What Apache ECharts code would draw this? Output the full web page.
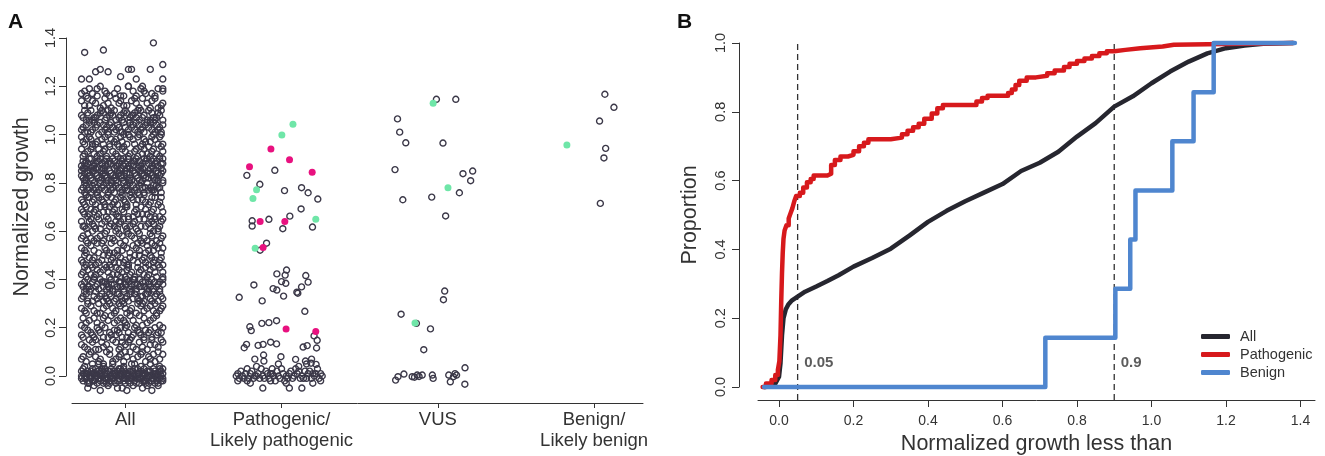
<!DOCTYPE html>
<html>
<head>
<meta charset="utf-8">
<title>Normalized growth</title>
<script src="https://cdn.jsdelivr.net/npm/echarts@6/dist/echarts.min.js"></script>
<style>
  html, body { margin: 0; padding: 0; background: #fff; }
  #main { width: 1325px; height: 456px; }
</style>
</head>
<body>
<div id="main"></div>
<script type="text/javascript">
// ---------- panel A : strip chart ----------
var categories = ['All', 'Pathogenic/\nLikely pathogenic', 'VUS', 'Benign/\nLikely benign'];
var catPos = [1, 2, 3, 4];

// "All" group, [x, y] in hundredths (x = jittered category position)
var allBand = [
  [72,0],[73,-2],[74,1],[75,-1],[76,2],[77,0],[78,-1],[79,1],[80,-2],[81,0],[82,2],[83,-1],[84,1],[85,0],[86,-2],[87,1],[88,-1],[89,2],[90,0],[91,-1],[92,1],[93,-2],[94,0],[95,2],[96,-1],[97,1],[98,0],[99,-2],[100,1],[101,-1],[102,0],[103,2],[104,-1],[105,1],[106,-2],[107,0],[108,1],[109,-1],[110,2],[111,0],[112,-2],[113,1],[114,-1],[115,0],[116,2],[117,-1],[118,1],[119,0],[120,-2],[121,1],[122,-1],[123,0],[124,1],
  [72,2],[74,-1],[75,1],[77,-2],[78,2],[80,1],[81,-1],[83,2],[84,-2],[86,0],[87,3],[89,-1],[90,2],[92,-1],[93,1],[95,-2],[96,0],[98,2],[99,-1],[101,1],[102,-2],[104,2],[105,0],[107,-1],[108,3],[110,-1],[111,1],[113,-2],[114,2],[116,0],[117,-2],[119,2],[120,0],[122,2],[123,-2],[124,-1],
  [73,3],[76,-3],[79,3],[82,-3],[85,3],[88,-3],[91,3],[94,-3],[97,3],[100,-3],[103,-3],[106,3],[109,-3],[112,3],[115,-3],[118,3],[121,-3],[124,3],
  [76,-5],[84,-6],[89,-4],[95,-5],[101,-6],[105,-4],[111,-5],[117,-6],[121,-4],[80,-4],[98,-5],[114,-4],
  [74,4],[79,5],[86,4],[92,5],[99,4],[104,5],[110,4],[116,5],[122,4],[83,5],
  [72,-1],[73,1],[75,0],[76,1],[78,0],[79,-2],[81,1],[82,0],[84,-1],[85,2],[87,-1],[88,1],[90,-2],[91,0],[93,2],[94,1],[96,-2],[97,0],[99,1],[100,-1],[102,1],[103,-1],[105,2],[106,0],[108,-1],[109,1],[111,-2],[112,1],[114,0],[115,2],[117,0],[118,-1],[120,1],[121,-1],[123,2],[124,-2],
  [77,-3],[81,3],[86,-3],[90,-3],[96,3],[99,3],[107,-3],[113,-3],[119,-3],[122,3]
];
var allUpper = [
  [75,6],[81,8],[86,5],[90,9],[94,7],[99,6],[103,10],[108,8],[113,6],[118,9],[122,7],[78,10],[84,7],[97,9],[106,5],[111,10],[116,7],[121,10],[73,8],[101,8],
  [74,12],[79,14],[83,11],[88,13],[92,15],[96,11],[100,13],[105,12],[109,14],[114,11],[119,13],[123,15],[77,15],[86,12],[94,14],[103,15],[111,12],[117,15],[81,11],[98,14],
  [72,17],[76,19],[80,16],[84,18],[87,20],[91,17],[95,19],[98,16],[102,18],[106,20],[110,17],[113,19],[117,16],[121,18],[124,20],[78,18],[89,16],[93,19],[100,20],[104,16],[108,19],[115,18],[119,20],[82,20],
  [75,22],[80,24],[85,21],[89,23],[93,22],[97,24],[101,21],[105,23],[109,25],[114,22],[118,24],[122,21],[73,24],[87,25],[99,23],[111,21],
  [74,27],[78,29],[82,26],[86,28],[90,30],[94,27],[97,29],[101,26],[104,28],[108,30],[112,27],[116,29],[120,26],[123,28],[76,30],[84,26],[92,28],[99,30],[110,29],[118,27],
  [72,32],[75,34],[79,31],[81,35],[84,33],[88,32],[90,34],[93,31],[97,33],[99,35],[102,31],[106,34],[108,32],[111,33],[115,35],[117,31],[120,34],[124,32],[74,35],[80,33],[86,31],[91,33],[95,34],[100,32],[104,35],[109,31],[113,34],[119,33],[122,35],
  [73,37],[76,40],[78,36],[82,38],[85,39],[88,36],[91,38],[94,40],[97,37],[100,39],[103,36],[106,38],[109,40],[112,37],[115,39],[118,36],[121,38],[124,40],[74,39],[77,37],[80,40],[83,36],[87,39],[89,37],[92,36],[96,39],[98,37],[101,40],[104,38],[107,36],[110,37],[113,39],[116,37],[119,39],[122,36],[86,37],[105,40],
  [72,42],[76,44],[80,41],[84,43],[88,45],[92,42],[96,44],[100,41],[104,43],[108,45],[112,42],[116,44],[120,41],[124,43],[74,45],[78,42],[82,44],[90,41],[94,45],[98,43],[102,45],[110,44],[114,41],[118,45],
  [73,47],[77,49],[81,46],[85,48],[89,50],[93,47],[97,49],[101,46],[105,48],[109,50],[113,47],[117,49],[121,46],[123,49],[75,46],[79,48],[87,46],[91,48],[95,50],[99,47],[103,49],[111,48],[115,46],[119,48],
  [74,52],[78,54],[83,51],[87,53],[91,55],[95,52],[99,54],[103,51],[107,53],[111,55],[115,52],[119,54],[123,51],[76,55],[85,55],[93,51],[101,53],[109,52],[117,55],[121,53],
  [72,57],[76,59],[80,56],[84,58],[88,60],[92,57],[96,59],[100,56],[104,58],[108,60],[112,57],[116,59],[120,56],[124,58],[78,57],[86,56],[94,60],[102,59],[110,56],[118,60],
  [73,62],[77,64],[81,61],[85,63],[89,65],[93,62],[97,64],[101,61],[105,63],[109,65],[113,62],[117,64],[121,61],[123,64],[75,61],[79,63],[83,65],[91,63],[95,61],[99,65],[103,62],[107,61],[115,63],[119,65],
  [74,67],[78,69],[82,66],[86,68],[90,70],[94,67],[98,69],[102,66],[106,68],[110,70],[114,67],[118,69],[122,66],[72,69],[76,66],[80,68],[84,70],[88,66],[92,68],[96,66],[100,70],[108,67],[116,66],[124,68],
  [73,72],[77,74],[81,71],[85,73],[89,75],[93,72],[97,74],[101,71],[105,73],[109,75],[113,72],[117,74],[121,71],[75,75],[79,72],[83,74],[87,71],[91,74],[95,71],[99,73],[103,75],[111,73],[115,71],[123,74],
  [72,77],[75,79],[78,76],[81,78],[84,80],[87,77],[90,79],[93,76],[96,78],[99,80],[102,77],[105,79],[108,76],[111,78],[114,80],[117,77],[120,79],[123,76],[74,76],[77,78],[80,80],[83,77],[86,79],[89,76],[92,78],[95,80],[98,77],[101,79],[104,76],[107,78],[110,80],[116,78],[122,78],
  [73,82],[76,84],[79,81],[82,83],[85,85],[88,82],[91,84],[94,81],[97,83],[100,85],[103,82],[106,84],[109,81],[112,83],[115,85],[118,82],[121,84],[124,81],[72,85],[74,81],[77,83],[80,85],[83,82],[86,84],[89,81],[92,83],[95,85],[98,82],[101,84],[104,81],[107,83],[110,85],[113,82],[116,84],[119,81],[122,83],[75,82],[87,85],[99,81],[111,84],[120,85],
  [72,87],[75,89],[78,86],[81,88],[84,90],[87,87],[90,89],[93,86],[96,88],[99,90],[102,87],[105,89],[108,86],[111,88],[114,90],[117,87],[120,89],[123,86],[74,88],[77,90],[80,87],[83,89],[86,86],[89,88],[92,90],[95,87],[98,89],[101,86],[104,88],[107,90],[110,87],[113,89],[116,86],[119,88],[122,90],[73,86],[85,88],[97,86],[109,89],[118,90],[124,88],
  [74,92],[78,94],[82,91],[86,93],[90,95],[94,92],[98,94],[102,91],[106,93],[110,95],[114,92],[118,94],[122,91],[72,94],[80,92],[88,91],[96,95],[100,93],[108,91],[112,94],[116,91],[124,93],
  [73,97],[77,99],[81,96],[85,98],[89,100],[93,97],[97,99],[101,96],[105,98],[109,100],[113,97],[117,99],[121,96],[75,98],[79,96],[83,100],[91,98],[95,96],[99,100],[103,99],[111,96],[119,98],[123,100],
  [72,102],[75,104],[78,101],[81,103],[84,105],[87,102],[90,104],[93,101],[96,103],[99,105],[102,102],[105,104],[108,101],[111,103],[114,105],[117,102],[120,104],[123,101],[74,101],[80,105],[86,104],[92,103],[98,101],[104,103],[110,102],[116,105],[122,103],[89,101],[107,105],
  [73,107],[76,109],[79,106],[82,108],[85,110],[88,107],[91,109],[94,106],[97,108],[100,110],[103,107],[106,109],[109,106],[112,108],[115,110],[118,107],[121,109],[124,106],[74,110],[80,107],[86,109],[92,108],[98,106],[104,108],[110,110],[116,106],[122,108],[77,106],[101,109],
  [74,112],[79,114],[84,111],[89,113],[94,115],[99,112],[104,114],[109,111],[114,113],[119,115],[123,112],[76,115],[86,112],[96,113],[106,115],[116,111],
  [72,117],[77,119],[82,116],[87,118],[93,117],[97,116],[102,120],[107,116],[112,118],[117,117],[75,116],[90,116],[110,119],[124,119],[82,119],[102,120],[111,120],[124,118],
  [72,123],[77,123],[97,124],[107,123],[124,123],[81,126],[89,126],[84,127],[102,127],[104,127],[116,127],[124,129],
  [74,134],[86,135],[118,138]
];
var allUpper2 = [
  [72,7],[77,9],[83,6],[88,10],[92,6],[96,8],[105,7],[110,9],[115,8],[119,6],[124,9],[100,10],
  [72,13],[76,11],[81,15],[85,14],[90,11],[97,12],[102,14],[107,11],[112,15],[116,13],[121,12],[124,14],
  [73,16],[74,20],[79,17],[83,19],[86,16],[90,18],[94,17],[97,20],[101,16],[105,17],[109,18],[112,16],[116,19],[120,17],[123,18],[96,18],
  [72,21],[77,23],[82,22],[86,24],[91,25],[95,23],[100,22],[103,25],[107,21],[112,24],[116,23],[120,25],
  [72,28],[75,26],[80,27],[83,30],[88,29],[93,26],[96,30],[100,28],[103,27],[107,26],[111,30],[114,28],[119,30],[122,27],[124,29],
  [73,33],[76,31],[77,35],[82,32],[85,34],[87,33],[89,31],[92,35],[94,32],[96,34],[98,31],[101,33],[103,34],[105,32],[107,35],[110,33],[112,31],[114,34],[116,32],[118,35],[121,31],[123,33],
  [72,38],[75,36],[76,37],[79,39],[81,37],[84,40],[86,39],[88,38],[90,36],[91,40],[93,38],[95,37],[97,39],[99,36],[100,38],[102,39],[104,37],[106,40],[108,38],[109,37],[111,39],[114,36],[115,38],[117,40],[120,37],[122,39],[124,38],
  [73,43],[75,41],[79,45],[81,42],[86,44],[89,43],[91,45],[95,42],[97,41],[101,44],[103,42],[106,41],[109,43],[113,45],[115,42],[119,43],[122,45],[124,41],
  [72,48],[74,50],[78,46],[80,49],[83,47],[86,50],[90,46],[92,49],[96,47],[100,48],[102,46],[106,50],[108,47],[112,49],[116,50],[118,47],[122,48],[124,46],
  [72,53],[75,51],[80,52],[82,55],[88,52],[90,51],[97,55],[98,52],[105,54],[108,55],[113,51],[114,54],[118,52],[122,55],[124,53],
  [73,58],[75,56],[79,60],[82,57],[87,59],[90,57],[93,56],[98,58],[101,60],[106,57],[109,59],[114,56],[117,58],[121,60],[123,57],
  [72,64],[74,62],[78,65],[80,62],[84,61],[87,64],[90,62],[94,64],[96,63],[100,62],[102,65],[106,64],[110,62],[112,65],[116,61],[118,63],[122,62],[124,65],
  [73,68],[75,70],[77,67],[81,69],[83,67],[87,70],[89,68],[93,69],[95,66],[99,68],[101,70],[105,66],[107,69],[111,67],[113,69],[117,68],[119,66],[123,70],
  [72,73],[74,71],[76,74],[80,73],[82,75],[86,72],[88,74],[92,71],[94,73],[98,75],[100,72],[104,74],[107,71],[108,73],[112,75],[116,72],[119,74],[122,72],
  [73,78],[74,80],[76,77],[79,79],[82,76],[85,78],[88,80],[91,77],[94,79],[97,76],[100,78],[103,80],[106,77],[109,79],[112,76],[113,78],[115,77],[118,79],[119,76],[121,78],[124,80],[80,77],[91,80],[101,77],[118,77],
  [72,83],[75,81],[76,85],[78,82],[81,84],[84,81],[87,83],[90,85],[93,82],[96,84],[99,83],[102,81],[105,85],[108,82],[111,81],[114,84],[117,83],[120,82],[123,84],[74,84],[79,85],[85,82],[91,81],[97,85],[103,84],[109,85],[115,82],[121,81],[124,85],[94,83],
  [73,89],[74,86],[76,88],[79,87],[82,89],[85,86],[88,90],[91,88],[94,87],[97,90],[100,88],[103,86],[106,89],[109,87],[112,90],[115,88],[118,86],[121,87],[124,90],[75,87],[81,86],[87,89],[93,89],[99,87],[105,87],[111,86],[117,89],[123,88],[78,90],[102,90],
  [73,91],[76,93],[79,95],[84,92],[87,94],[92,93],[95,91],[99,95],[103,92],[107,94],[111,92],[115,95],[117,93],[120,92],[123,95],[83,94],
  [72,99],[74,96],[78,98],[82,97],[87,99],[90,96],[94,98],[98,97],[102,100],[106,96],[108,99],[112,98],[116,97],[118,100],[122,99],[124,96],[86,96],
  [73,103],[76,101],[77,105],[79,102],[82,104],[85,101],[88,103],[91,105],[94,102],[95,104],[97,101],[100,103],[103,105],[106,102],[109,104],[112,101],[115,103],[118,105],[119,101],[121,102],[124,104],[113,104],
  [72,108],[75,106],[78,110],[81,107],[84,109],[87,106],[90,108],[93,110],[96,107],[99,109],[102,106],[105,108],[108,110],[111,107],[114,106],[117,109],[120,107],[123,110],[89,110],[107,107],[119,106],
  [72,114],[77,112],[81,113],[87,115],[91,111],[97,114],[101,112],[107,113],[111,115],[117,114],[121,111],[124,113],
  [74,118],[79,117],[84,120],[95,119],[99,116],[105,118],[113,117],[119,116],[121,119],[88,117]
];

// Pathogenic / likely pathogenic
var pathoHollow = [
  [1.957,0.852],[1.778,0.831],[1.861,0.794],[2.019,0.768],[2.128,0.78],[2.17,0.759],[2.232,0.733],[2.125,0.692],
  [1.812,0.643],[1.812,0.621],[1.919,0.649],[2.053,0.662],[2.008,0.61],[2.198,0.617],[1.904,0.55],[1.863,0.521],
  [2.032,0.439],[2.023,0.418],[1.97,0.423],[2.155,0.416],[2.0,0.391],[2.027,0.384],[2.17,0.389],[1.823,0.377],
  [1.946,0.362],[1.97,0.356],[2.128,0.369],[2.098,0.347],[2.104,0.343],[2.013,0.331],[1.729,0.326],[1.876,0.311],
  [2.149,0.268],[1.874,0.218],[1.919,0.221],[1.968,0.229],[1.797,0.204],[1.806,0.188],[2.208,0.166],[2.228,0.148],
  [1.761,0.117],[1.776,0.131],[1.85,0.127],[1.882,0.131],[1.93,0.14],[1.968,0.133],[2.138,0.12],[2.164,0.126],
  [2.224,0.116],[1.829,0.07],[1.885,0.087],[1.887,0.062],[1.996,0.08],[2.09,0.069],[2.153,0.062],[2.192,0.07],
  [2.221,0.048],[2.189,0.053]
];
var pathoBand = [   // hundredths
  [171,0],[172,1],[173,-1],[175,0],[177,1],[179,-1],[181,2],[183,0],[185,1],[186,-1],[188,0],[190,2],[192,-1],[194,1],[195,0],[197,2],
  [199,-1],[201,1],[203,0],[204,-1],[206,2],[208,0],[210,1],[212,-1],[213,0],[215,2],[217,1],[219,-1],[221,0],[222,1],[224,-1],[226,0],
  [174,2],[178,3],[182,-1],[187,3],[191,1],[196,-2],[200,3],[205,1],[209,3],[214,-1],[218,2],[223,3],[225,1],
  [180,-3],[188,-5],[193,-2],[203,-3],[205,-5],[213,-5],[220,-3],[184,4],[198,5],[211,4],[216,5],
  [172,-2],[176,-1],[180,1],[184,0],[189,-1],[193,1],[198,0],[202,-2],[207,-1],[211,2],[216,-1],[220,1],[225,-2],[178,-2],[194,3]
];
// VUS
var vusHollow = [
  [2.991,1.146],[3.115,1.146],[2.742,1.065],[2.756,1.01],[2.795,0.966],[3.033,0.965],[2.726,0.855],[3.161,0.838],
  [3.223,0.849],[3.21,0.809],[3.138,0.759],[2.961,0.741],[2.776,0.73],[3.05,0.663],[3.044,0.352],[3.036,0.316],
  [2.765,0.256],[2.863,0.218],[2.953,0.195],[2.91,0.109],[3.174,0.034],
  [2.73,-0.017],[2.745,-0.003],[2.783,0.008],[2.836,-0.003],[2.851,-0.005],[2.868,0.004],[2.88,-0.002],[2.9,0.004],
  [2.965,0.004],[2.97,-0.01],[3.07,0.004],[3.08,-0.024],[3.1,-0.003],[3.12,0.004],[3.173,-0.034],[3.11,0.01]
];
// Benign / likely benign
var benignHollow = [[4.069,1.167],[4.127,1.113],[4.035,1.056],[4.074,0.943],[4.063,0.903],[4.04,0.715]];
var benignGreen = [[3.826,0.957]];
// highlighted variants
var magentaPts = [[1.932,0.94],[1.795,0.867],[2.051,0.896],[2.196,0.844],[1.863,0.64],[2.021,0.64],[1.882,0.532],[2.029,0.195],[2.219,0.184]];
var greenPts = [[2.073,1.043],[2.002,0.998],[1.84,0.771],[1.817,0.735],[2.219,0.649],[1.831,0.529],[2.97,1.13],[3.065,0.78],[2.854,0.22]];

// ---------- panel B : cumulative proportions ----------
var xTicksB = [0, 0.2, 0.4, 0.6, 0.8, 1.0, 1.2, 1.4];
var cutoffs = [0.05, 0.9];
var cutoffLabels = ['0.05', '0.9'];
var ecdfAll = [
  [-0.04,0],[-0.02,0.003],[-0.01,0.01],[0.0,0.03],[0.004,0.07],[0.008,0.15],[0.012,0.2],[0.018,0.225],[0.025,0.24],
  [0.035,0.252],[0.05,0.263],[0.07,0.277],[0.1,0.292],[0.13,0.308],[0.16,0.325],[0.2,0.35],[0.25,0.375],[0.3,0.402],
  [0.35,0.44],[0.4,0.48],[0.45,0.512],[0.5,0.54],[0.55,0.565],[0.6,0.59],[0.65,0.628],[0.7,0.652],[0.75,0.684],
  [0.8,0.728],[0.85,0.767],[0.9,0.815],[0.95,0.845],[1.0,0.883],[1.05,0.917],[1.1,0.946],[1.15,0.97],[1.2,0.985],
  [1.25,0.993],[1.3,0.998],[1.38,1.0]
];
var ecdfPatho = [
  [-0.044,0],[-0.035,0.01],[-0.02,0.02],[-0.01,0.035],[-0.003,0.05],[0.001,0.075],[0.004,0.15],[0.006,0.25],[0.008,0.33],
  [0.010,0.39],[0.012,0.43],[0.015,0.455],[0.02,0.47],[0.026,0.49],[0.031,0.505],[0.036,0.52],[0.041,0.54],[0.046,0.555],
  [0.056,0.565],[0.065,0.58],[0.075,0.595],[0.085,0.605],[0.093,0.615],[0.13,0.62],[0.14,0.645],[0.15,0.66],[0.165,0.67],
  [0.185,0.675],[0.2,0.685],[0.215,0.7],[0.228,0.71],[0.24,0.72],[0.3,0.725],[0.33,0.735],[0.345,0.745],[0.36,0.755],
  [0.375,0.765],[0.39,0.78],[0.41,0.795],[0.425,0.81],[0.44,0.82],[0.53,0.83],[0.545,0.84],[0.56,0.847],[0.615,0.855],
  [0.625,0.865],[0.635,0.878],[0.645,0.89],[0.665,0.9],[0.69,0.905],[0.72,0.912],[0.74,0.92],[0.765,0.93],[0.78,0.94],
  [0.8,0.948],[0.82,0.955],[0.84,0.962],[0.86,0.97],[0.88,0.976],[0.9,0.98],[0.93,0.985],[0.97,0.99],[1.03,0.995],
  [1.06,1.0],[1.38,1.0]
];
var benignStart = -0.04, benignEnd = 1.385;

var FONT = '"Liberation Sans", Arial, Helvetica, sans-serif';
var ink = '#333333';
var ringColor = '#3b3848';

function hund(list) {
  return list.map(function (p) { return [p[0] / 100, p[1] / 100]; });
}
// step data for the benign curve, from the benign values themselves
var benignVals = benignHollow.concat(benignGreen).map(function (p) { return p[1]; }).sort(function (a, b) { return a - b; });
var ecdfBenign = [[benignStart, 0]];
benignVals.forEach(function (v, i) { ecdfBenign.push([v, (i + 1) / benignVals.length]); });
ecdfBenign.push([benignEnd, 1]);

function hollow(name, data) {
  return {
    name: name, type: 'scatter', xAxisIndex: 0, yAxisIndex: 0, clip: false,
    symbol: 'circle', symbolSize: 6, data: data, silent: true, large: false,
    itemStyle: { color: 'rgba(0,0,0,0)', borderColor: ringColor, borderWidth: 1.4, opacity: 1 }
  };
}
function filled(name, data, color) {
  return {
    name: name, type: 'scatter', xAxisIndex: 0, yAxisIndex: 0, clip: false,
    symbol: 'circle', symbolSize: 7, data: data, silent: true,
    itemStyle: { color: color, opacity: 1 }
  };
}
function curve(name, data, color, step) {
  return {
    name: name, type: 'line', xAxisIndex: 1, yAxisIndex: 1, data: data, step: step,
    showSymbol: false, symbol: 'none', clip: false, color: color, silent: true,
    lineStyle: { color: color, width: 4.5, cap: 'round', join: 'round' }
  };
}

var axisLineStyle = { color: ink, width: 1 };
var option = {
  animation: false,
  textStyle: { fontFamily: FONT },
  title: [
    { text: 'A', left: 3, top: 7, textStyle: { fontSize: 21, fontWeight: 'bold', color: '#111', fontFamily: FONT } },
    { text: 'B', left: 672, top: 7, textStyle: { fontSize: 21, fontWeight: 'bold', color: '#111', fontFamily: FONT } }
  ],
  legend: {
    data: ['All', 'Pathogenic', 'Benign'],
    orient: 'vertical', left: 1196, top: 324,
    icon: 'roundRect', itemWidth: 29, itemHeight: 5, itemGap: 3,
    selectedMode: false,
    textStyle: { fontSize: 14.5, color: ink, fontFamily: FONT, padding: [0, 0, 0, 5] }
  },
  grid: [
    { left: 72, right: 682, top: 38, bottom: 80, outerBoundsMode: 'none', containLabel: false },
    { left: 758, right: 10, top: 43, bottom: 69, outerBoundsMode: 'none', containLabel: false }
  ],
  xAxis: [
    {
      gridIndex: 0, type: 'value', min: 0.659, max: 4.313, offset: 27,
      axisLine: { show: true, onZero: false, lineStyle: axisLineStyle },
      axisTick: { show: true, length: 5, customValues: catPos, lineStyle: axisLineStyle },
      axisLabel: {
        customValues: catPos, margin: 6, fontSize: 18.5, lineHeight: 21, color: ink, fontFamily: FONT,
        formatter: function (v) { return categories[Math.round(v) - 1]; }
      },
      splitLine: { show: false }
    },
    {
      gridIndex: 1, type: 'value', min: -0.0564, max: 1.439, offset: 13,
      axisLine: { show: true, onZero: false, lineStyle: axisLineStyle },
      axisTick: { show: true, length: 7, customValues: xTicksB, lineStyle: axisLineStyle },
      axisLabel: {
        customValues: xTicksB, margin: 14, fontSize: 14, color: ink, fontFamily: FONT,
        formatter: function (v) { return v.toFixed(1); }
      },
      splitLine: { show: false },
      name: 'Normalized growth less than', nameLocation: 'middle', nameGap: 31,
      nameTextStyle: { fontSize: 21.5, color: ink, fontFamily: FONT }
    }
  ],
  yAxis: [
    {
      gridIndex: 0, type: 'value', min: 0, max: 1.4, interval: 0.2, offset: 6,
      axisLine: { show: true, onZero: false, lineStyle: axisLineStyle },
      axisTick: { show: true, length: 7, lineStyle: axisLineStyle },
      axisLabel: {
        rotate: 90, margin: 8, fontSize: 14.5, color: ink, fontFamily: FONT,
        formatter: function (v) { return v.toFixed(1); }
      },
      splitLine: { show: false },
      name: 'Normalized growth', nameLocation: 'middle', nameRotate: 90, nameGap: 33,
      nameTextStyle: { fontSize: 21.5, color: ink, fontFamily: FONT }
    },
    {
      gridIndex: 1, type: 'value', min: 0, max: 1, interval: 0.2, offset: 19,
      axisLine: { show: true, onZero: false, lineStyle: axisLineStyle },
      axisTick: { show: true, length: 7, lineStyle: axisLineStyle },
      axisLabel: {
        rotate: 90, margin: 11, fontSize: 14.5, color: ink, fontFamily: FONT,
        formatter: function (v) { return v.toFixed(1); }
      },
      splitLine: { show: false },
      name: 'Proportion', nameLocation: 'middle', nameRotate: 90, nameGap: 38,
      nameTextStyle: { fontSize: 21.5, color: ink, fontFamily: FONT }
    }
  ],
  series: [
    hollow('all', hund(allBand).concat(hund(allUpper), hund(allUpper2))),
    hollow('patho', pathoHollow.concat(hund(pathoBand))),
    hollow('vus', vusHollow),
    hollow('benign', benignHollow),
    filled('magenta', magentaPts, '#e8117f'),
    filled('green', greenPts.concat(benignGreen), '#6fe6a8'),
    curve('All', ecdfAll, '#26262f', false),
    curve('Pathogenic', ecdfPatho, '#d7191c', 'end'),
    curve('Benign', ecdfBenign, '#4f86cf', 'end')
  ]
};

cutoffs.forEach(function (c, i) {
  option.series.push({
    name: 'cut' + i, type: 'line', xAxisIndex: 1, yAxisIndex: 1, clip: false, silent: true,
    showSymbol: false, symbol: 'none', data: [[c, -0.038], [c, 1]],
    lineStyle: { color: '#333', width: 1.3, type: [6, 4] }, z: 1
  });
  option.series.push({
    name: 'cutlab' + i, type: 'scatter', xAxisIndex: 1, yAxisIndex: 1, clip: false, silent: true,
    symbolSize: 1, itemStyle: { color: 'rgba(0,0,0,0)' }, data: [[c, 0.07]],
    label: {
      show: true, position: 'right', distance: 6, formatter: cutoffLabels[i],
      fontSize: 15, fontWeight: 'bold', color: '#333', fontFamily: FONT
    }
  });
});

var myChart = echarts.init(document.getElementById('main'));
myChart.setOption(option);
</script>
</body>
</html>
